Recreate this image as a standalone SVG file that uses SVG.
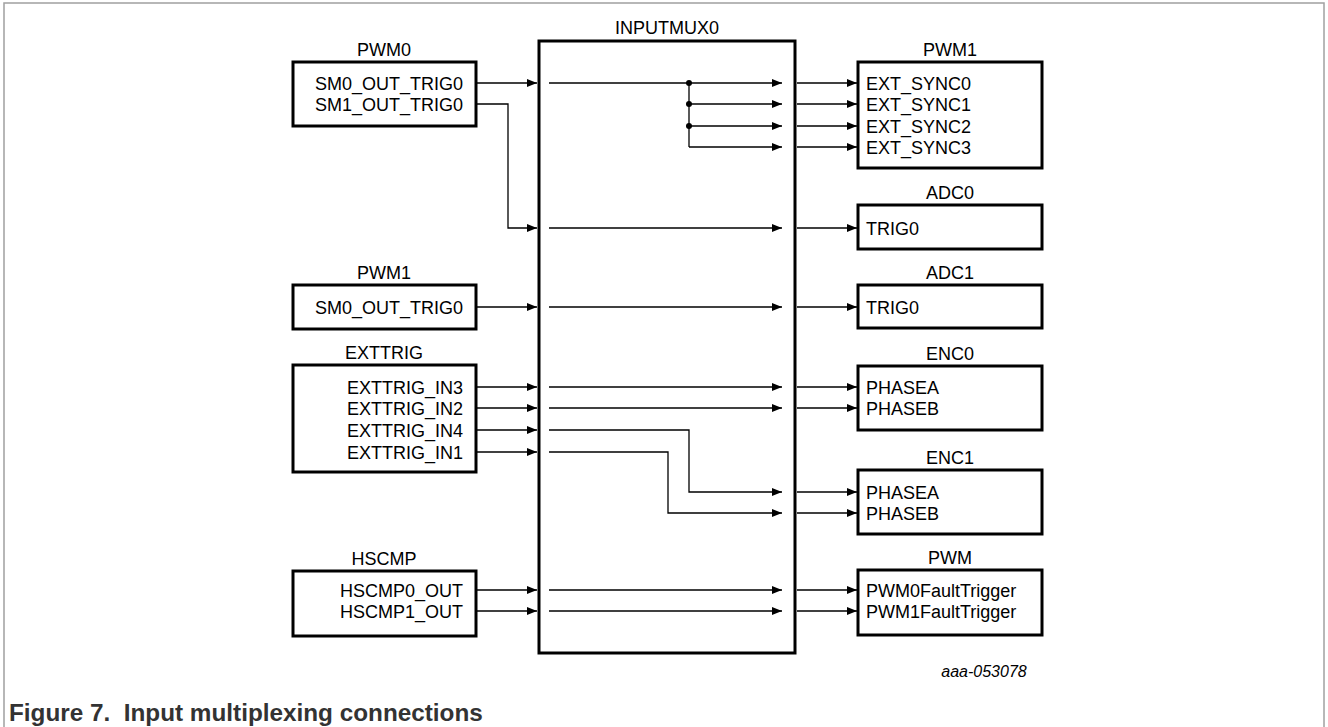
<svg xmlns="http://www.w3.org/2000/svg" width="1328" height="727" viewBox="0 0 1328 727">
<defs>
<style>
.frame{fill:none;stroke:#a0a0a0;stroke-width:1.5}
.box{fill:#fff;stroke:#000;stroke-width:3}
.mux{fill:#fff;stroke:#000;stroke-width:3}
.t{font-family:"Liberation Sans",Arial,sans-serif;font-size:18px;fill:#000}
.r{text-anchor:end}
.m{text-anchor:middle}
.w{fill:none;stroke:#000;stroke-width:1.3}
.cap{font-family:"Liberation Sans",Arial,sans-serif;font-size:24.3px;font-weight:bold;fill:#333}
.id{font-family:"Liberation Sans",Arial,sans-serif;font-size:16px;font-style:italic;fill:#000}
</style>
<marker id="ah" markerWidth="10" markerHeight="8" refX="10" refY="4" orient="auto" markerUnits="userSpaceOnUse">
<path d="M0,0 L10,4 L0,8 Z" fill="#000"/>
</marker>
</defs>
<rect width="1328" height="727" fill="#fff"/>
<rect class="frame" x="4" y="3" width="1320" height="800"/>

<g id="inputmux0">
<rect class="mux" x="539" y="41" width="256" height="612"/>
<text class="t m" x="667" y="34">INPUTMUX0</text>
</g>

<g id="pwm0">
<text class="t m" x="384" y="56">PWM0</text>
<rect class="box" x="293" y="62" width="183" height="64"/>
<text class="t r" x="463" y="89.5">SM0_OUT_TRIG0</text>
<text class="t r" x="463" y="110.5">SM1_OUT_TRIG0</text>
</g>

<g id="pwm1_src">
<text class="t m" x="384" y="279">PWM1</text>
<rect class="box" x="293" y="285" width="183" height="44"/>
<text class="t r" x="463" y="313.5">SM0_OUT_TRIG0</text>
</g>

<g id="exttrig">
<text class="t m" x="384" y="359">EXTTRIG</text>
<rect class="box" x="293" y="365" width="183" height="107"/>
<text class="t r" x="463" y="393.5">EXTTRIG_IN3</text>
<text class="t r" x="463" y="414.5">EXTTRIG_IN2</text>
<text class="t r" x="463" y="436.5">EXTTRIG_IN4</text>
<text class="t r" x="463" y="458.5">EXTTRIG_IN1</text>
</g>

<g id="hscmp">
<text class="t m" x="384" y="565">HSCMP</text>
<rect class="box" x="293" y="571" width="183" height="65"/>
<text class="t r" x="463" y="596.5">HSCMP0_OUT</text>
<text class="t r" x="463" y="617.5">HSCMP1_OUT</text>
</g>

<g id="pwm1_dst">
<text class="t m" x="950" y="56">PWM1</text>
<rect class="box" x="858" y="62" width="184" height="106"/>
<text class="t" x="866" y="89.5">EXT_SYNC0</text>
<text class="t" x="866" y="110.5">EXT_SYNC1</text>
<text class="t" x="866" y="132.5">EXT_SYNC2</text>
<text class="t" x="866" y="153.5">EXT_SYNC3</text>
</g>

<g id="adc0">
<text class="t m" x="950" y="199">ADC0</text>
<rect class="box" x="858" y="205" width="184" height="44"/>
<text class="t" x="866" y="234.5">TRIG0</text>
</g>

<g id="adc1">
<text class="t m" x="950" y="279">ADC1</text>
<rect class="box" x="858" y="285" width="184" height="43"/>
<text class="t" x="866" y="313.5">TRIG0</text>
</g>

<g id="enc0">
<text class="t m" x="950" y="360">ENC0</text>
<rect class="box" x="858" y="366" width="184" height="64"/>
<text class="t" x="866" y="393.5">PHASEA</text>
<text class="t" x="866" y="414.5">PHASEB</text>
</g>

<g id="enc1">
<text class="t m" x="950" y="464">ENC1</text>
<rect class="box" x="858" y="470" width="184" height="64"/>
<text class="t" x="866" y="498.5">PHASEA</text>
<text class="t" x="866" y="519.5">PHASEB</text>
</g>

<g id="pwm">
<text class="t m" x="950" y="564">PWM</text>
<rect class="box" x="858" y="570" width="184" height="65"/>
<text class="t" x="866" y="596.5">PWM0FaultTrigger</text>
<text class="t" x="866" y="617.5">PWM1FaultTrigger</text>
</g>

<g id="connectors">
<path class="w" d="M476,83 H537" marker-end="url(#ah)"/>
<path class="w" d="M476,104 H508 V228 H537" marker-end="url(#ah)"/>
<path class="w" d="M476,307 H537" marker-end="url(#ah)"/>
<path class="w" d="M476,387 H537" marker-end="url(#ah)"/>
<path class="w" d="M476,408 H537" marker-end="url(#ah)"/>
<path class="w" d="M476,430 H537" marker-end="url(#ah)"/>
<path class="w" d="M476,452 H537" marker-end="url(#ah)"/>
<path class="w" d="M476,590 H537" marker-end="url(#ah)"/>
<path class="w" d="M476,611 H537" marker-end="url(#ah)"/>
<path class="w" d="M549,83 H782" marker-end="url(#ah)"/>
<path class="w" d="M689,83 V147"/>
<path class="w" d="M689,104 H782" marker-end="url(#ah)"/>
<path class="w" d="M689,126 H782" marker-end="url(#ah)"/>
<path class="w" d="M689,147 H782" marker-end="url(#ah)"/>
<circle cx="689" cy="83" r="3"/>
<circle cx="689" cy="104" r="3"/>
<circle cx="689" cy="126" r="3"/>
<path class="w" d="M549,228 H782" marker-end="url(#ah)"/>
<path class="w" d="M549,307 H782" marker-end="url(#ah)"/>
<path class="w" d="M549,387 H782" marker-end="url(#ah)"/>
<path class="w" d="M549,408 H782" marker-end="url(#ah)"/>
<path class="w" d="M549,430 H689 V492 H782" marker-end="url(#ah)"/>
<path class="w" d="M549,452 H668 V513 H782" marker-end="url(#ah)"/>
<path class="w" d="M549,590 H782" marker-end="url(#ah)"/>
<path class="w" d="M549,611 H782" marker-end="url(#ah)"/>
<path class="w" d="M797,83 H857" marker-end="url(#ah)"/>
<path class="w" d="M797,104 H857" marker-end="url(#ah)"/>
<path class="w" d="M797,126 H857" marker-end="url(#ah)"/>
<path class="w" d="M797,147 H857" marker-end="url(#ah)"/>
<path class="w" d="M797,228 H857" marker-end="url(#ah)"/>
<path class="w" d="M797,307 H857" marker-end="url(#ah)"/>
<path class="w" d="M797,387 H857" marker-end="url(#ah)"/>
<path class="w" d="M797,408 H857" marker-end="url(#ah)"/>
<path class="w" d="M797,492 H857" marker-end="url(#ah)"/>
<path class="w" d="M797,513 H857" marker-end="url(#ah)"/>
<path class="w" d="M797,590 H857" marker-end="url(#ah)"/>
<path class="w" d="M797,611 H857" marker-end="url(#ah)"/>
</g>

<text class="id m" x="984" y="677">aaa-053078</text>
<text class="cap" x="9" y="721" xml:space="preserve">Figure 7.  Input multiplexing connections</text>
</svg>
